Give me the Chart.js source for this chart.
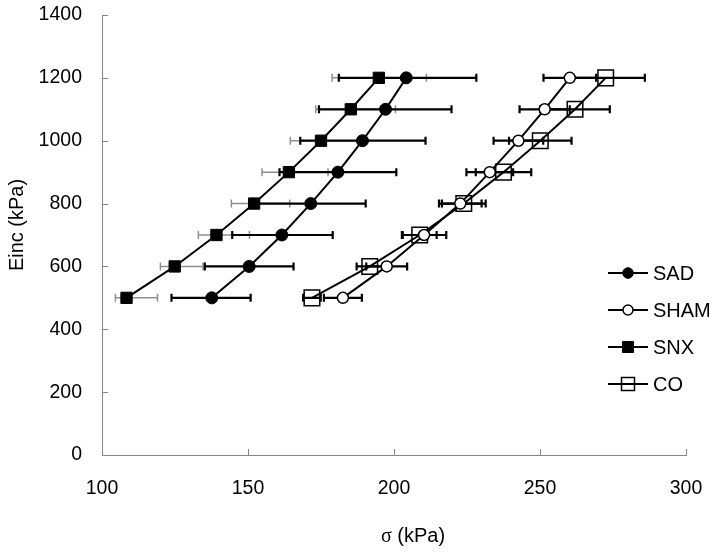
<!DOCTYPE html>
<html><head><meta charset="utf-8">
<script src="https://cdn.jsdelivr.net/npm/chart.js@4/dist/chart.umd.min.js"></script>
<style>html,body{margin:0;padding:0;background:#fff}#wrap{width:720px;height:558px}</style>
</head><body><div id="wrap"><canvas id="c" width="720" height="558"></canvas></div>
<script>
// ---- data ----
const seriesNames = ['SAD', 'SHAM', 'SNX', 'CO'];
const eincLevels = [500, 600, 700, 800, 900, 1000, 1100, 1200];
const sadSigma   = [137.6, 150.4, 161.6, 171.5, 180.8, 189.2, 197.1, 204.2];
const shamSigma  = [182.5, 197.5, 210.3, 222.7, 232.8, 242.6, 251.6, 260.2];
const snxSigma   = [108.4, 124.9, 139.2, 152.1, 164.0, 175.0, 185.2, 194.8];
const coSigma    = [171.9, 191.7, 208.8, 223.9, 237.5, 250.1, 262.0, 272.5];
const sadErrMinus  = [13.8, 15.2, 17.0, 19.0, 20.0, 21.3, 22.8, 23.1];
const sadErrPlus   = [13.3, 15.2, 17.4, 18.8, 20.0, 21.6, 22.6, 24.0];
const shamErrMinus = [6.5, 7.0, 7.6, 7.3, 8.0, 8.5, 8.6, 9.0];
const shamErrPlus  = [6.5, 7.0, 7.6, 7.3, 8.0, 8.5, 8.6, 9.0];
const snxErrMinus  = [3.8, 4.9, 6.2, 7.8, 9.2, 10.5, 12.0, 16.0];
const snxErrPlus   = [10.6, 9.7, 11.3, 12.2, 13.4, 13.0, 15.3, 16.3];
const coErrMinus   = [3.0, 4.5, 5.8, 7.5, 9.5, 10.7, 11.9, 13.4];
const coErrPlus    = [3.0, 4.5, 5.8, 7.5, 9.5, 10.7, 11.9, 13.4];
const xTicks = [100, 150, 200, 250, 300];
const yTicks = [0, 200, 400, 600, 800, 1000, 1200, 1400];
const xTitle = ['σ', ' (kPa)'];
const yTitle = 'Einc (kPa)';

// ---- styles ----
const AXIS = '#868686';
const SANS = '"Liberation Sans", Arial, sans-serif';
const pts = (xs) => xs.map((v, i) => ({ x: v, y: eincLevels[i] }));
const errs = [
  { minus: sadErrMinus,  plus: sadErrPlus,  color: '#000', width: 2.2 },
  { minus: shamErrMinus, plus: shamErrPlus, color: '#000', width: 2.2 },
  { minus: snxErrMinus,  plus: snxErrPlus,  color: '#8f8f8f', width: 1.5 },
  { minus: coErrMinus,   plus: coErrPlus,   color: '#000', width: 2.2 }
];
const markers = [
  { style: 'circle', r: 6,   fill: '#000', bw: 1 },
  { style: 'circle', r: 5.5, fill: '#fff', bw: 1.5 },
  { style: 'rect',   r: 8,   fill: '#000', bw: 1 },
  { style: 'rect',   r: 11,  fill: 'rgba(0,0,0,0)', bw: 1.5 }
];

const extras = {
  id: 'extras',
  beforeDatasetsDraw(chart) {
    const { ctx, scales: { x, y } } = chart;
    const area = chart.chartArea;
    ctx.save();
    ctx.strokeStyle = AXIS; ctx.lineWidth = 1;
    ctx.beginPath();
    xTicks.forEach(v => { const px = Math.round(x.getPixelForValue(v)) + 0.5; ctx.moveTo(px, area.bottom); ctx.lineTo(px, area.bottom - 6); });
    yTicks.forEach(v => { const py = Math.round(y.getPixelForValue(v)) + 0.5; ctx.moveTo(area.left, py); ctx.lineTo(area.left + 6, py); });
    ctx.stroke();
    ctx.restore();
    [2, 0, 1, 3].forEach(i => {
      const ds = chart.data.datasets[i];
      const e = errs[i];
      ctx.save();
      ctx.strokeStyle = e.color; ctx.lineWidth = e.width;
      ds.data.forEach((p, j) => {
        const py = y.getPixelForValue(p.y);
        const x1 = x.getPixelForValue(p.x - e.minus[j]);
        const x2 = x.getPixelForValue(p.x + e.plus[j]);
        ctx.beginPath();
        ctx.moveTo(x1, py); ctx.lineTo(x2, py);
        ctx.moveTo(x1, py - 4); ctx.lineTo(x1, py + 4);
        ctx.moveTo(x2, py - 4); ctx.lineTo(x2, py + 4);
        ctx.stroke();
      });
      ctx.restore();
    });
  },
  afterDraw(chart) {
    const { ctx } = chart;
    ctx.save();
    ctx.fillStyle = '#000';
    ctx.textBaseline = 'middle';
    ctx.font = '20px "Liberation Serif", "Times New Roman", serif';
    const w1 = ctx.measureText(xTitle[0]).width;
    ctx.font = '20px ' + SANS;
    const w2 = ctx.measureText(xTitle[1]).width;
    let sx = 413 - (w1 + w2) / 2;
    ctx.textAlign = 'left';
    ctx.font = '20px "Liberation Serif", "Times New Roman", serif';
    ctx.fillText(xTitle[0], sx, 537);
    ctx.font = '20px ' + SANS;
    ctx.fillText(xTitle[1], sx + w1, 536);
    ctx.save();
    ctx.translate(17, 225);
    ctx.rotate(-Math.PI / 2);
    ctx.textAlign = 'center';
    ctx.fillText(yTitle, 0, 0);
    ctx.restore();
    const rows = [273, 310, 347, 384];
    seriesNames.forEach((name, i) => {
      const yy = rows[i];
      ctx.strokeStyle = '#000'; ctx.lineWidth = 2;
      ctx.beginPath(); ctx.moveTo(608, yy); ctx.lineTo(648, yy); ctx.stroke();
      const m = markers[i];
      ctx.lineWidth = m.bw;
      ctx.beginPath();
      if (m.style === 'circle') {
        const r = i === 0 ? 5.3 : 5;
        ctx.arc(628, yy, r, 0, Math.PI * 2);
      } else {
        const s = i === 2 ? 5.5 : 6.5;
        ctx.rect(628 - s, yy - s, 2 * s, 2 * s);
      }
      if (i !== 3) { ctx.fillStyle = m.fill; ctx.fill(); }
      ctx.stroke();
      ctx.fillStyle = '#000';
      ctx.textAlign = 'left'; ctx.textBaseline = 'middle';
      ctx.font = '20px ' + SANS;
      ctx.fillText(name, 653, yy + 1);
    });
    ctx.restore();
  }
};

const sigmaSeries = [sadSigma, shamSigma, snxSigma, coSigma];
const datasets = sigmaSeries.map((s, i) => ({
  label: seriesNames[i],
  data: pts(s),
  showLine: true,
  tension: 0,
  borderColor: '#000',
  borderWidth: 2,
  pointStyle: markers[i].style,
  pointRadius: markers[i].r,
  pointHoverRadius: markers[i].r,
  pointBackgroundColor: markers[i].fill,
  pointBorderColor: '#000',
  pointBorderWidth: markers[i].bw
}));

new Chart(document.getElementById('c'), {
  type: 'scatter',
  data: { datasets },
  options: {
    responsive: false,
    animation: false,
    devicePixelRatio: 1,
    layout: { padding: { left: 0, right: 34, top: 15, bottom: 0 } },
    plugins: { legend: { display: false }, tooltip: { enabled: false } },
    scales: {
      x: {
        type: 'linear', min: 100, max: 300,
        afterBuildTicks: (s) => { s.ticks = xTicks.map(v => ({ value: v })); },
        afterFit: (s) => { s.height = 103; s.paddingLeft = 0; s.paddingRight = 0; },
        grid: { display: false, drawTicks: false },
        border: { display: true, color: AXIS, width: 1 },
        ticks: { color: '#000', font: { family: SANS, size: 19.5 }, padding: 22, maxRotation: 0, callback: (v) => String(v) }
      },
      y: {
        type: 'linear', min: 0, max: 1400,
        afterBuildTicks: (s) => { s.ticks = yTicks.map(v => ({ value: v })); },
        afterFit: (s) => { s.width = 102; s.paddingTop = 0; s.paddingBottom = 0; },
        grid: { display: false, drawTicks: false },
        border: { display: true, color: AXIS, width: 1 },
        ticks: { color: '#000', font: { family: SANS, size: 19.5 }, padding: 20, callback: (v) => String(v) }
      }
    }
  },
  plugins: [extras]
});
</script>
</body></html>
